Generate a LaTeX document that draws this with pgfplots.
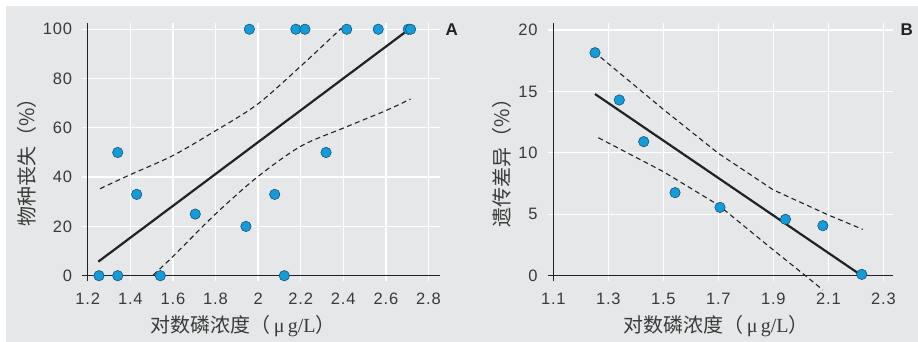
\documentclass[border=0pt]{standalone}
\usepackage{fontspec}
\usepackage{pgfplots}
\pgfplotsset{compat=1.18}
\setmainfont{Liberation Sans}
\newfontfamily\cjk{Noto Sans CJK SC}
\newfontfamily\lserif{Liberation Serif}
\newfontfamily\tickfont[LetterSpace=5]{Liberation Sans}
\definecolor{bg}{HTML}{E6E7E8}
\definecolor{mk}{HTML}{129CD8}
\definecolor{mkedge}{HTML}{1F4F78}
\definecolor{txt}{HTML}{3A3A3A}
\definecolor{ln}{HTML}{222222}

\tikzset{
  axln/.style={draw=ln, line width=1.3bp},
  fitline/.style={ln, line width=2.2bp},
  band/.style={ln, line width=1.1bp, dash pattern=on 5bp off 3.5bp},
}
\pgfplotsset{
  panel/.style={
    scale only axis, clip=false,
    axis line style={draw=none},
    grid=major, major grid style={white, line width=1.3bp},
    tick align=outside, major tick length=5.5bp,
    tick style={white, line width=1.3bp},
    tick pos=left,
    tick label style={font=\fontsize{16.5bp}{18bp}\tickfont, text=txt},
    /pgf/number format/assume math mode=true,
    xticklabel style={anchor=north, inner sep=0pt, yshift=-12bp},
    yticklabel style={anchor=east, inner sep=0pt, xshift=-10bp},
  },
  pts/.style={only marks, mark=*, mark size=5.2bp,
    mark options={fill=mk, draw=mkedge, line width=0.6bp}},
}

\begin{document}
\begin{tikzpicture}
\path[use as bounding box] (0bp,0bp) rectangle (918bp,342bp);
\fill[white] (0bp,0bp) rectangle (918bp,342bp);
\fill[bg] (6bp,0bp) rectangle (918bp,336bp);

% Panel A
\begin{axis}[panel,
  at={(87.7bp,66.3bp)}, anchor=south west,
  width=352.5bp, height=252.6bp,
  xmin=1.2, xmax=2.855, ymin=0, ymax=102.5,
  xtick={1.2,1.4,1.6,1.8,2,2.2,2.4,2.6,2.8},
  ytick={0,20,40,60,80,100},
]
\draw[axln, shorten <=-5.5bp] (axis cs:1.2,0) -- (axis cs:2.855,0);
\draw[axln, shorten <=-5.5bp] (axis cs:1.2,0) -- (axis cs:1.2,102.5);
\addplot[band, smooth] coordinates {(1.258,35.3) (1.4,41) (1.599,48.7) (1.796,58.6) (1.996,69.5) (2.2,85) (2.392,100.5)};
\addplot[band, smooth] coordinates {(1.508,0.3) (1.599,7.7) (1.796,24.7) (1.996,40) (2.2,52.5) (2.403,60) (2.6,67) (2.716,71.7)};
\addplot[fitline] coordinates {(1.25,5.7) (2.698,99.3)};
\addplot[pts] coordinates {
(1.253,0) (1.341,0) (1.341,50) (1.430,33) (1.541,0) (1.705,25) (1.943,20)
(1.959,100) (2.078,33) (2.123,0) (2.177,100) (2.220,100) (2.319,50)
(2.416,100) (2.564,100) (2.705,100) (2.716,100)};
\end{axis}

% Panel B
\begin{axis}[panel,
  at={(553.3bp,66.3bp)}, anchor=south west,
  width=340bp, height=252.6bp,
  xmin=1.1, xmax=2.336, ymin=0, ymax=20.56,
  xtick={1.1,1.3,1.5,1.7,1.9,2.1,2.3},
  ytick={0,5,10,15,20},
]
\draw[axln, shorten <=-5.5bp] (axis cs:1.1,0) -- (axis cs:2.336,0);
\draw[axln, shorten <=-5.5bp] (axis cs:1.1,0) -- (axis cs:1.1,20.56);
\addplot[band] coordinates {(1.272,17.78) (1.5,13.54) (1.7,9.96) (1.9,6.98) (2.1,4.94) (2.225,3.77)};
\addplot[band] coordinates {(1.2636,11.23) (1.5,8.47) (1.7,5.75) (1.9,2.09) (2.021,-0.08) (2.08,-1.16)};
\addplot[fitline] coordinates {(1.2516,14.79) (2.215,0.1)};
\addplot[pts] coordinates {
(1.2516,18.15) (1.340,14.30) (1.4287,10.91) (1.5425,6.76) (1.706,5.56)
(1.944,4.59) (2.080,4.07) (2.2214,0.11)};
\end{axis}

% Labels
\node[text=txt, font=\fontsize{20bp}{22bp}\cjk] at (243bp,16bp) {对数磷浓度（{\lserif\,μ\,g/L}）};
\node[text=txt, font=\fontsize{20bp}{22bp}\cjk] at (716bp,16bp) {对数磷浓度（{\lserif\,μ\,g/L}）};
\node[text=txt, font=\fontsize{20bp}{22bp}\cjk, rotate=90] at (26.7bp,184.5bp) {物种丧失（\%）};
\node[text=txt, font=\fontsize{20bp}{22bp}\cjk, rotate=90] at (501.7bp,184bp) {遗传差异（\%）};
\node[text=ln, font=\fontsize{17bp}{19bp}\bfseries] at (451.7bp,312bp) {A};
\node[text=ln, font=\fontsize{17bp}{19bp}\bfseries] at (906.7bp,312bp) {B};
\end{tikzpicture}
\end{document}
